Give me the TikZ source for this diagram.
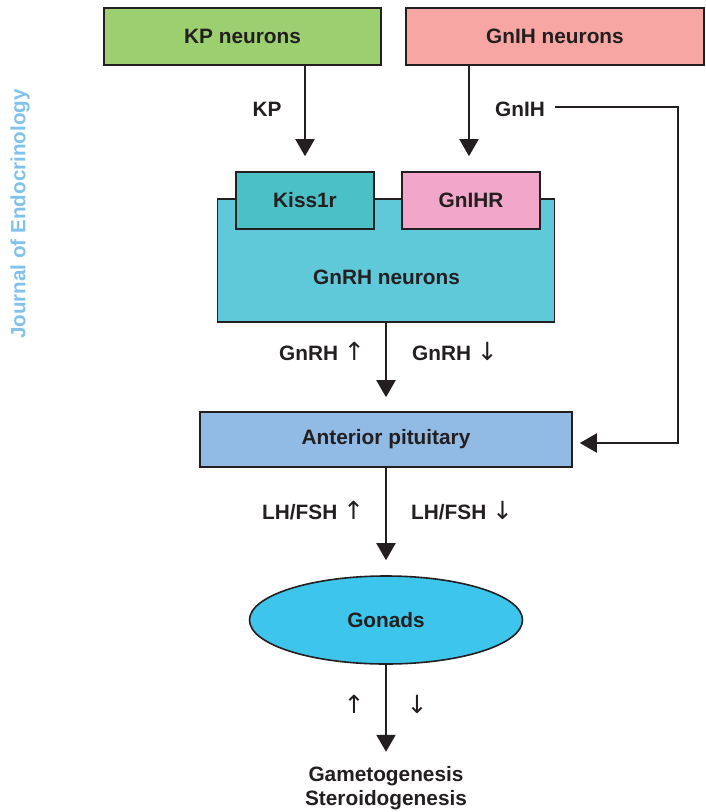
\documentclass[tikz,border=0pt]{standalone}
\usepackage{fontspec}
\setmainfont{Liberation Sans}
\newfontfamily\arrfont{DejaVu Sans}
\usetikzlibrary{arrows.meta,shapes.geometric}
\definecolor{ink}{HTML}{231F20}
\definecolor{kpgreen}{HTML}{9BCF70}
\definecolor{gnihpink}{HTML}{F7A6A3}
\definecolor{kissteal}{HTML}{4BC1C6}
\definecolor{gnihrpink}{HTML}{F2A6C9}
\definecolor{gnrhcyan}{HTML}{5FC8D9}
\definecolor{apblue}{HTML}{91BBE5}
\definecolor{gonblue}{HTML}{3EC5EB}
\definecolor{journal}{HTML}{80C2EC}
\tikzset{
  boxnode/.style={draw=ink, line width=1.6pt, rectangle, inner sep=0pt, text=ink,
    font=\fontsize{20.8}{24}\selectfont\bfseries},
  lbl/.style={text=ink, inner sep=0pt, font=\fontsize{20.8}{24}\selectfont\bfseries},
  arr/.style={draw=ink, line width=2pt, -{Triangle[length=17pt,width=19pt]}},
}
\newcommand{\uparr}{{\arrfont\mdseries\fontsize{25}{24}\selectfont ↑}}
\newcommand{\dnarr}{{\arrfont\mdseries\fontsize{25}{24}\selectfont ↓}}
\begin{document}
\begin{tikzpicture}[x=1pt,y=-1pt]
\useasboundingbox (0,0) rectangle (705,812);
% side title
\node[rotate=90, text=journal, inner sep=0pt, font=\fontsize{20.6}{24}\selectfont\bfseries] (jt) at (20,214) {Journal of Endocrinology};
% top boxes
\node[boxnode, fill=kpgreen, minimum width=277pt, minimum height=57pt] (kp) at (242.5,36.5) {KP neurons};
\node[boxnode, fill=gnihpink, minimum width=298pt, minimum height=57pt] (gnih) at (555,36.5) {GnIH neurons};
% GnRH neurons box and receptors
\node[boxnode, fill=gnrhcyan, minimum width=337pt, minimum height=123pt] (gnrh) at (386,260.5) {};
\node[lbl] (gnrhtxt) at (386.5,277) {GnRH neurons};
\node[boxnode, fill=kissteal, minimum width=138pt, minimum height=57pt] (kiss) at (305,200.5) {Kiss1r};
\node[boxnode, fill=gnihrpink, minimum width=138pt, minimum height=57pt] (gnihr) at (471,200.5) {GnIHR};
% anterior pituitary
\node[boxnode, fill=apblue, minimum width=372pt, minimum height=55pt] (ap) at (386,439.5) {Anterior pituitary};
% gonads
\node[boxnode, ellipse, fill=gonblue, minimum width=273pt, minimum height=88pt] (gon) at (386,620) {Gonads};
% output
\node[lbl, align=center, font=\fontsize{20.8}{24.5}\selectfont\bfseries] (out) at (386,788) {Gametogenesis\\Steroidogenesis};
% labels
\node[lbl, anchor=base west] (gnrhup) at (279,360) {GnRH \uparr};
\node[lbl, anchor=base west] (gnrhdn) at (412,360) {GnRH \dnarr};
\node[lbl, anchor=base west] (lhup) at (262,519) {LH/FSH \uparr};
\node[lbl, anchor=base west] (lhdn) at (411,519) {LH/FSH \dnarr};
\node[lbl, anchor=base] (up) at (354,713) {\uparr};
\node[lbl, anchor=base] (dn) at (417,713) {\dnarr};
\node[lbl] (kplbl) at (267,109) {KP};
\node[lbl] (gnihlbl) at (520,109) {GnIH};
% connectors
\draw[arr] (kiss.north |- kp.south) -- ([yshift=15pt]kiss.north);
\draw[arr] ([xshift=-2pt]gnihr.north |- gnih.south) -- ([xshift=-2pt,yshift=15pt]gnihr.north);
\coordinate (gstart) at ([xshift=10pt,yshift=2pt]gnihlbl.east);
\coordinate (gcorner) at (678,107);
\coordinate (gend) at ([xshift=7pt,yshift=-3.5pt]ap.east);
\draw[arr] (gstart) -- (gcorner) -- (gcorner |- gend) -- (gend);
\draw[arr] (gnrh.south) -- ([yshift=14pt]ap.north);
\draw[arr] (ap.south) -- ([yshift=15pt]gon.north);
\draw[arr] (gon.south) -- ([yshift=14pt]out.north);
\end{tikzpicture}
\end{document}
